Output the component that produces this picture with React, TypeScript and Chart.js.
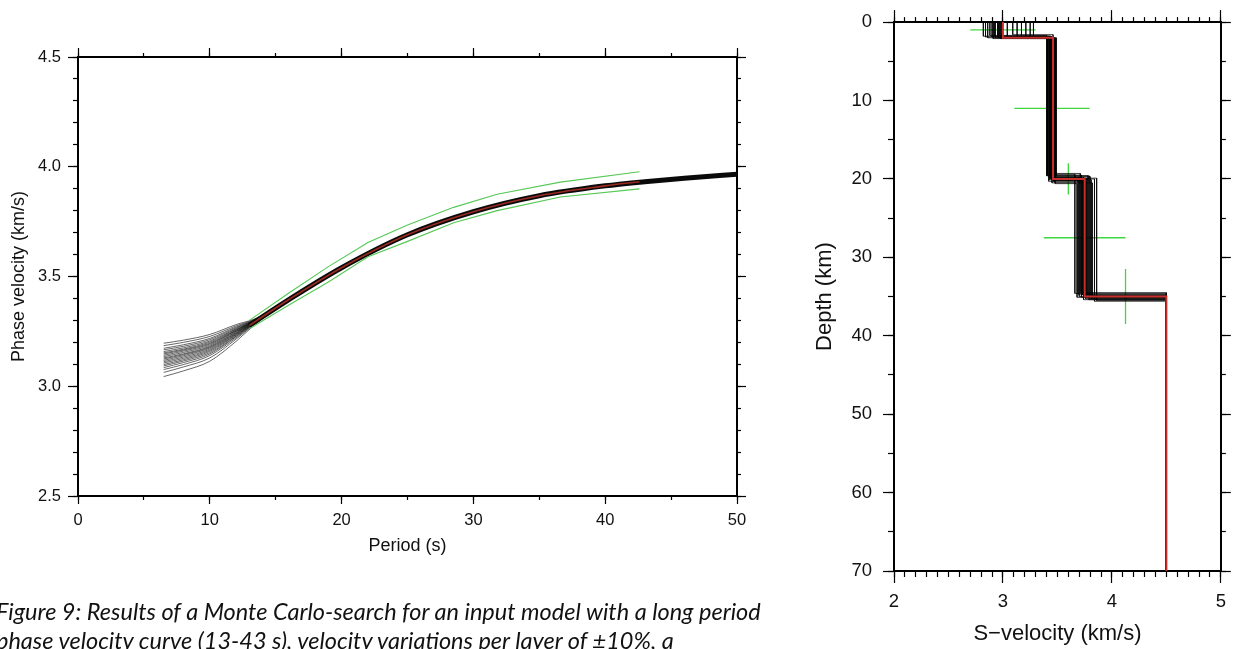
import React, { useEffect, useRef } from 'react';
import { Chart, registerables } from 'chart.js';

Chart.register(...registerables);

// ---------------- Left panel: phase velocity dispersion curves ----------------
const periodTickStep = 10;
const periodMinorStep = 5;
const velocityTickStep = 0.5;
const velocityMinorStep = 0.1;

// Monte Carlo ensemble (short-period fan, individual curves)
const ensemblePeriods = [6.5, 8, 10, 12, 13.5, 15];
const ensembleVelocities = [
  [3.196, 3.210, 3.236, 3.281, 3.309, 3.361],
  [3.185, 3.200, 3.227, 3.275, 3.307, 3.360],
  [3.173, 3.189, 3.218, 3.270, 3.305, 3.360],
  [3.166, 3.182, 3.212, 3.266, 3.304, 3.359],
  [3.158, 3.175, 3.206, 3.262, 3.303, 3.359],
  [3.152, 3.169, 3.201, 3.259, 3.302, 3.359],
  [3.147, 3.165, 3.196, 3.256, 3.301, 3.358],
  [3.141, 3.160, 3.192, 3.254, 3.300, 3.358],
  [3.135, 3.154, 3.187, 3.251, 3.299, 3.358],
  [3.129, 3.148, 3.182, 3.248, 3.298, 3.357],
  [3.124, 3.144, 3.178, 3.245, 3.298, 3.357],
  [3.118, 3.139, 3.174, 3.242, 3.297, 3.357],
  [3.112, 3.133, 3.169, 3.239, 3.296, 3.357],
  [3.106, 3.127, 3.164, 3.236, 3.295, 3.356],
  [3.099, 3.121, 3.159, 3.233, 3.294, 3.356],
  [3.093, 3.115, 3.153, 3.229, 3.293, 3.356],
  [3.085, 3.108, 3.147, 3.226, 3.291, 3.355],
  [3.076, 3.099, 3.140, 3.221, 3.290, 3.355],
  [3.063, 3.088, 3.129, 3.215, 3.288, 3.354],
  [3.044, 3.070, 3.114, 3.205, 3.285, 3.353],
];

// Overlapping ensemble (converged part)
const bundlePeriods = [13, 13.5, 16, 20, 25, 30, 35, 40, 43, 46, 50];
const bundleVelocities = [3.277, 3.297, 3.395, 3.54, 3.69, 3.795, 3.868, 3.913, 3.932, 3.948, 3.966];

// Input (observed) curve
const observedPeriods = [13, 13.5, 16, 20, 25, 30, 35, 40, 42.6];
const observedVelocities = [3.277, 3.297, 3.395, 3.54, 3.69, 3.795, 3.868, 3.913, 3.932];

// Uncertainty bounds
const boundPeriods = [13, 16, 19, 22, 25, 28.5, 31.8, 36.6, 42.6];
const upperVelocities = [3.300, 3.425, 3.545, 3.655, 3.735, 3.815, 3.875, 3.930, 3.977];
const lowerVelocities = [3.262, 3.370, 3.475, 3.590, 3.660, 3.745, 3.800, 3.862, 3.899];

// ---------------- Right panel: S-velocity models ----------------
const halfspaceVelocity = 4.5;
const maxDepth = 70;
const inputVelocities = [3.0, 3.46, 3.75, 4.5];
const inputInterfaces = [2, 20, 35];

const modelV1 = [2.82, 2.84, 2.86, 2.88, 2.90, 2.91, 2.92, 2.93, 2.95, 2.96, 2.97, 2.98, 2.99, 3.04, 3.09, 3.13, 3.17, 3.21, 3.25, 3.28];
const modelD1 = [1.8, 1.9, 2.0, 1.7, 1.9, 2.1, 1.8, 2.0, 1.9, 2.0, 1.8, 2.1, 1.9, 2.0, 1.6, 1.9, 2.0, 1.8, 2.1, 1.9];
const modelV2 = [3.41, 3.44, 3.47, 3.40, 3.45, 3.48, 3.43, 3.46, 3.42, 3.49, 3.44, 3.47, 3.45, 3.43, 3.46, 3.41, 3.48, 3.44, 3.46, 3.45];
const modelD2 = [19.4, 19.8, 20.2, 19.6, 20.5, 19.9, 20.1, 19.5, 20.3, 19.7, 20.0, 20.4, 19.3, 19.9, 20.2, 19.6, 20.6, 19.8, 20.1, 19.9];
const modelV3 = [3.66, 3.70, 3.74, 3.78, 3.82, 3.86, 3.69, 3.72, 3.76, 3.80, 3.84, 3.75, 3.71, 3.77, 3.73, 3.79, 3.68, 3.74, 3.81, 3.76];
const modelD3 = [34.6, 35.0, 35.4, 34.8, 35.2, 35.5, 34.7, 35.1, 35.3, 34.9, 35.6, 35.0, 34.5, 35.2, 34.8, 35.4, 35.1, 34.9, 35.3, 35.0];

// Search ranges (green crosses)
const layerBarDepths = [1, 11, 27.5];
const layerBarVMin = [2.7, 3.105, 3.375];
const layerBarVMax = [3.3, 3.795, 4.125];
const interfaceBarV = [3.225, 3.6, 4.125];
const interfaceBarDMin = [1.8, 18, 31.5];
const interfaceBarDMax = [2.2, 22, 38.5];

const FONT = 'Liberation Sans, Arial, Helvetica, sans-serif';

type AxisSpec = {
  axis: 'x' | 'y';
  position: 'left' | 'right' | 'top' | 'bottom';
  min: number;
  max: number;
  step: number;
  tick: number;
  size: number;
  weight: number;
  border?: number;
  reverse?: boolean;
  labels?: { size: number; padding: number; fmt: (v: number) => string };
  title?: { text: string; size: number; padding: { top: number; bottom: number } };
};

function makeAxis(o: AxisSpec): any {
  const horizontal = o.position === 'top' || o.position === 'bottom';
  return {
    type: 'linear',
    axis: o.axis,
    position: o.position,
    min: o.min,
    max: o.max,
    reverse: !!o.reverse,
    weight: o.weight,
    afterFit: (s: any) => {
      if (horizontal) s.height = o.size;
      else s.width = o.size;
    },
    grid: {
      display: true,
      drawOnChartArea: false,
      drawTicks: true,
      tickLength: o.tick,
      tickColor: '#000',
      tickWidth: 1.2,
    },
    border: { display: !!o.border, width: o.border || 1, color: '#000' },
    ticks: o.labels
      ? {
          display: true,
          stepSize: o.step,
          maxTicksLimit: 1000,
          autoSkip: false,
          maxRotation: 0,
          minRotation: 0,
          padding: o.labels.padding,
          color: '#111',
          font: { family: FONT, size: o.labels.size },
          callback: (v: any) => o.labels!.fmt(Number(v)),
        }
      : { display: false, stepSize: o.step, maxTicksLimit: 1000, autoSkip: false },
    title: o.title
      ? {
          display: true,
          text: o.title.text,
          color: '#111',
          font: { family: FONT, size: o.title.size },
          padding: o.title.padding,
        }
      : { display: false },
  };
}

function xy(xs: number[], ys: number[]) {
  return xs.map((x, i) => ({ x, y: ys[i] }));
}

function stepProfile(vs: number[], interfaces: number[], bottom: number) {
  const pts: { x: number; y: number }[] = [];
  let top = 0;
  vs.forEach((v, i) => {
    const base = i < interfaces.length ? interfaces[i] : bottom;
    pts.push({ x: v, y: top });
    pts.push({ x: v, y: base });
    top = base;
  });
  return pts;
}

function line(data: any[], color: string, width: number, tension: any = 0) {
  const ds: any = {
    data,
    showLine: true,
    borderColor: color,
    borderWidth: width,
    pointRadius: 0,
    fill: false,
    xAxisID: 'x',
    yAxisID: 'y',
  };
  if (tension === 'monotone') ds.cubicInterpolationMode = 'monotone';
  else ds.tension = tension;
  return ds;
}

function leftConfig(): any {
  const datasets: any[] = [];
  datasets.push(line(xy(observedPeriods, observedVelocities), '#9a2a22', 1.6, 'monotone'));
  datasets.push(line(xy(boundPeriods, upperVelocities), '#55c855', 1.1, 0));
  datasets.push(line(xy(boundPeriods, lowerVelocities), '#55c855', 1.1, 0));
  datasets.push(line(xy(bundlePeriods, bundleVelocities), '#0a0a0a', 5, 'monotone'));
  ensembleVelocities.forEach((row) => {
    datasets.push(line(xy(ensemblePeriods, row), 'rgba(0,0,0,0.75)', 0.8, 'monotone'));
  });
  return {
    type: 'scatter',
    data: { datasets },
    options: {
      animation: false,
      responsive: false,
      maintainAspectRatio: false,
      layout: { padding: 0 },
      plugins: { legend: { display: false }, tooltip: { enabled: false } },
      scales: {
        x: makeAxis({
          axis: 'x', position: 'bottom', min: 0, max: 50, step: periodTickStep, tick: 8, size: 84, weight: 1, border: 2,
          labels: { size: 16.5, padding: 7, fmt: (v) => String(v) },
          title: { text: 'Period (s)', size: 18, padding: { top: 0, bottom: 23 } },
        }),
        xMinor: makeAxis({ axis: 'x', position: 'bottom', min: 0, max: 50, step: periodMinorStep, tick: 4, size: 0, weight: 0 }),
        xTop: makeAxis({ axis: 'x', position: 'top', min: 0, max: 50, step: periodTickStep, tick: 9, size: 57, weight: 1, border: 2 }),
        xTopMinor: makeAxis({ axis: 'x', position: 'top', min: 0, max: 50, step: periodMinorStep, tick: 4, size: 0, weight: 0 }),
        y: makeAxis({
          axis: 'y', position: 'left', min: 2.5, max: 4.5, step: velocityTickStep, tick: 10, size: 78, weight: 1, border: 2,
          labels: { size: 16.5, padding: 7, fmt: (v) => v.toFixed(1) },
          title: { text: 'Phase velocity (km/s)', size: 18, padding: { top: 8, bottom: 0 } },
        }),
        yMinor: makeAxis({ axis: 'y', position: 'left', min: 2.5, max: 4.5, step: velocityMinorStep, tick: 5, size: 0, weight: 0 }),
        yRight: makeAxis({ axis: 'y', position: 'right', min: 2.5, max: 4.5, step: velocityTickStep, tick: 9, size: 43, weight: 1, border: 2 }),
        yRightMinor: makeAxis({ axis: 'y', position: 'right', min: 2.5, max: 4.5, step: velocityMinorStep, tick: 4, size: 0, weight: 0 }),
      },
    },
  };
}

function rightConfig(): any {
  const datasets: any[] = [];
  datasets.push(line(stepProfile(inputVelocities, inputInterfaces, maxDepth), '#c8302c', 2));
  modelV1.forEach((_, i) => {
    const vs = [modelV1[i], modelV2[i], modelV3[i], halfspaceVelocity];
    const ds = [modelD1[i], modelD2[i], modelD3[i]];
    datasets.push(line(stepProfile(vs, ds, maxDepth), 'rgba(0,0,0,0.72)', 1));
  });
  layerBarDepths.forEach((d, i) => {
    datasets.push(line([{ x: layerBarVMin[i], y: d }, { x: layerBarVMax[i], y: d }], '#3fd63f', 1.3));
  });
  interfaceBarV.forEach((v, i) => {
    datasets.push(line([{ x: v, y: interfaceBarDMin[i] }, { x: v, y: interfaceBarDMax[i] }], '#3fd63f', 1.3));
  });
  return {
    type: 'scatter',
    data: { datasets },
    options: {
      animation: false,
      responsive: false,
      maintainAspectRatio: false,
      layout: { padding: 0 },
      plugins: { legend: { display: false }, tooltip: { enabled: false } },
      scales: {
        x: makeAxis({
          axis: 'x', position: 'bottom', min: 2, max: 5, step: 1, tick: 12, size: 78, weight: 1, border: 2,
          labels: { size: 18.5, padding: 8, fmt: (v) => String(v) },
          title: { text: 'S\u2212velocity (km/s)', size: 22, padding: { top: 0, bottom: 2 } },
        }),
        xMinor: makeAxis({ axis: 'x', position: 'bottom', min: 2, max: 5, step: 0.1, tick: 6, size: 0, weight: 0 }),
        xTop: makeAxis({ axis: 'x', position: 'top', min: 2, max: 5, step: 1, tick: 12, size: 20, weight: 1, border: 2 }),
        xTopMinor: makeAxis({ axis: 'x', position: 'top', min: 2, max: 5, step: 0.1, tick: 5, size: 0, weight: 0 }),
        y: makeAxis({
          axis: 'y', position: 'left', min: 0, max: maxDepth, step: 10, tick: 11, size: 94, weight: 1, border: 2, reverse: true,
          labels: { size: 18.5, padding: 11, fmt: (v) => String(v) },
          title: { text: 'Depth (km)', size: 22, padding: { top: 12, bottom: 0 } },
        }),
        yMinor: makeAxis({ axis: 'y', position: 'left', min: 0, max: maxDepth, step: 5, tick: 6, size: 0, weight: 0, reverse: true }),
        yRight: makeAxis({ axis: 'y', position: 'right', min: 0, max: maxDepth, step: 10, tick: 10, size: 10, weight: 1, border: 2, reverse: true }),
        yRightMinor: makeAxis({ axis: 'y', position: 'right', min: 0, max: maxDepth, step: 5, tick: 5, size: 0, weight: 0, reverse: true }),
      },
    },
  };
}

export default function App() {
  const leftRef = useRef<HTMLCanvasElement>(null);
  const rightRef = useRef<HTMLCanvasElement>(null);

  useEffect(() => {
    const c1 = new Chart(leftRef.current as HTMLCanvasElement, leftConfig());
    const c2 = new Chart(rightRef.current as HTMLCanvasElement, rightConfig());
    return () => {
      c1.destroy();
      c2.destroy();
    };
  }, []);

  return (
    <div style={{ position: 'absolute', left: 0, top: 0, width: 1234, height: 649, background: '#fff', overflow: 'hidden' }}>
      <canvas ref={leftRef} width={780} height={580} style={{ position: 'absolute', left: 0, top: 0, width: 780, height: 580 }} />
      <canvas ref={rightRef} width={434} height={649} style={{ position: 'absolute', left: 800, top: 0, width: 434, height: 649 }} />
      <div
        style={{
          position: 'absolute',
          left: -4,
          top: 597,
          width: 820,
          fontFamily: 'Lato, "Open Sans", sans-serif',
          fontStyle: 'italic',
          fontSize: 23.5,
          lineHeight: '29px',
          whiteSpace: 'nowrap',
          color: '#111',
        }}
      >
        Figure 9: Results of a Monte Carlo-search for an input model with a long period
        <br />
        phase velocity curve (13-43 s), velocity variations per layer of ±10%, a
      </div>
    </div>
  );
}
